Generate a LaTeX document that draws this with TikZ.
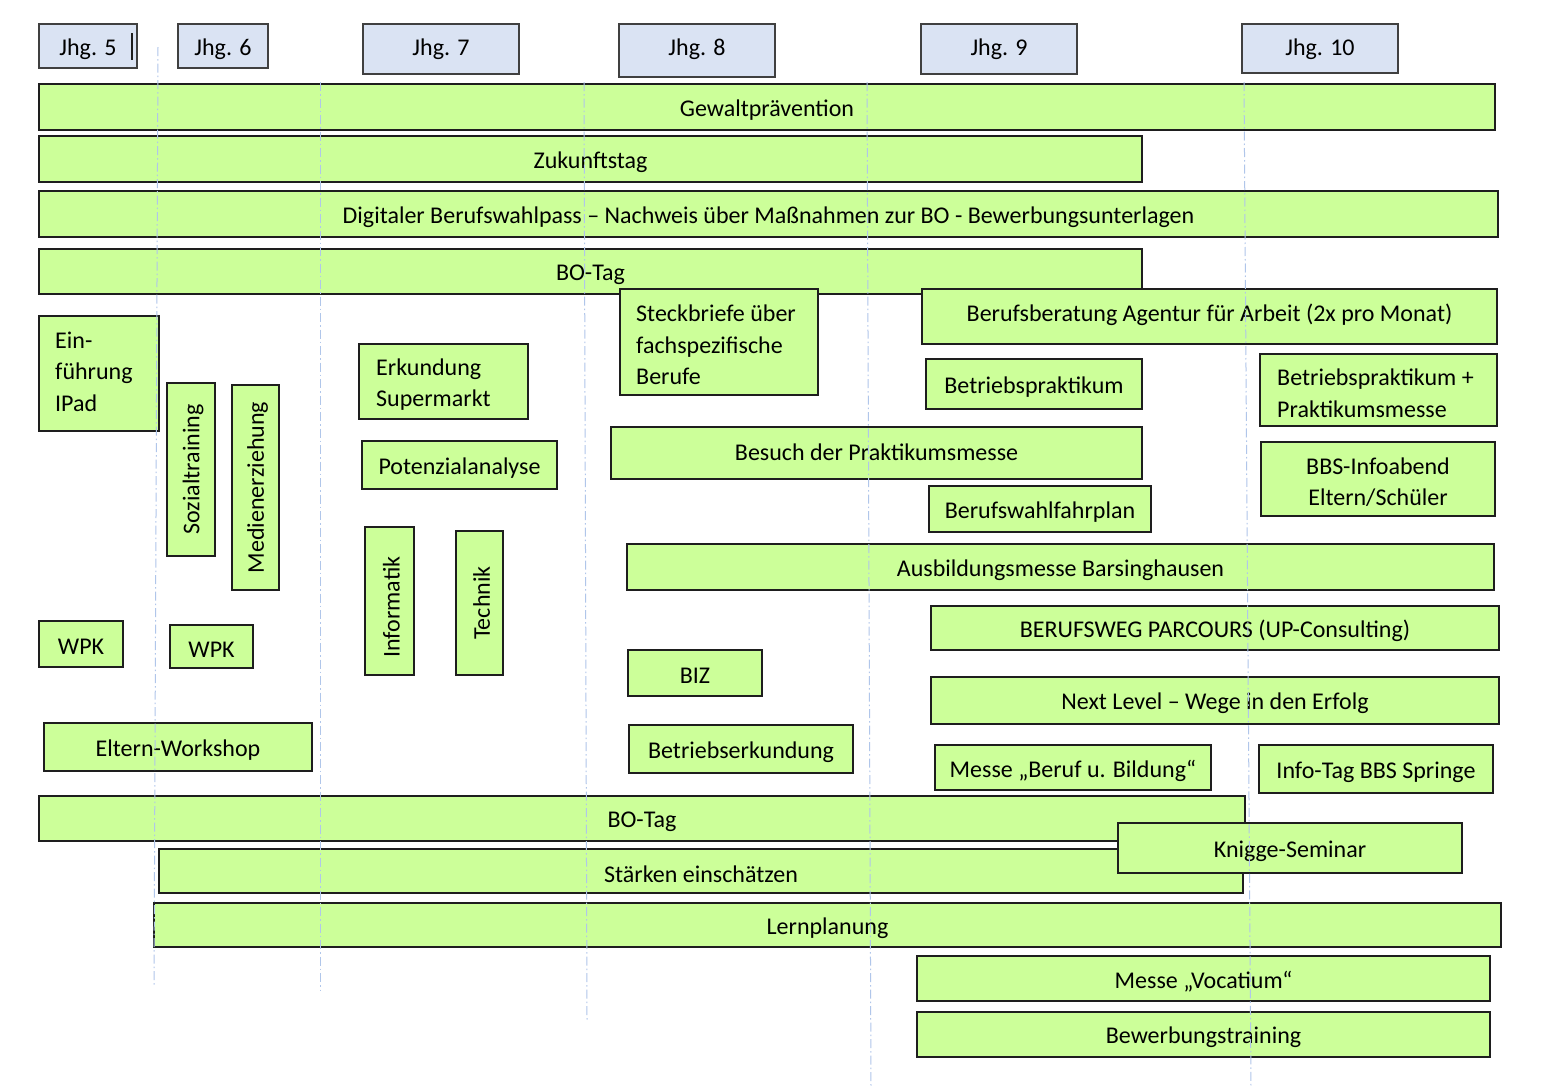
\documentclass[tikz,border=0pt]{standalone}
\usepackage{fontspec}
\setmainfont{Carlito}
\usepackage{graphicx}
\definecolor{boxgreen}{HTML}{CCFF99}
\definecolor{hdrblue}{HTML}{DAE3F3}
\definecolor{gridblue}{HTML}{B0C6EA}
\definecolor{edge}{HTML}{1E1E1E}
% box with centred text
\newcommand{\mkbox}[7]{\node[#6, minimum width={#4-#2}, minimum height={#5-#3}] (#1) at ({(#2+#4)/2},{(#3+#5)/2}) {};
  \node[txt] (#1-t) at ([yshift=-3pt]#1.center) {#7};}
% header box, text at fixed height
\newcommand{\mkhdr}[6]{\node[hdr, minimum width={#4-#2}, minimum height={#5-#3}] (#1) at ({(#2+#4)/2},{(#3+#5)/2}) {};
  \node[txt] (#1-t) at ([yshift=-25pt]#1.north) {#6};}
% empty box (text placed separately)
\newcommand{\mkboxl}[6]{\node[#6, minimum width={#4-#2}, minimum height={#5-#3}] (#1) at ({(#2+#4)/2},{(#3+#5)/2}) {};}
% box with rotated text
\newcommand{\mkboxr}[7]{\node[box, minimum width={#4-#2}, minimum height={#5-#3}] (#1) at ({(#2+#4)/2},{(#3+#5)/2}) {};
  \node[txt, rotate=90] (#1-t) at ([xshift=2pt,yshift=#7]#1.center) {#6};}
\begin{document}
\begin{tikzpicture}[x=1pt,y=-1pt,
  txt/.style={font=\fontsize{24}{31.5}\selectfont, text=black, inner sep=0pt},
  box/.style={draw=edge, line width=1.6pt, fill=boxgreen, inner sep=0pt, outer sep=0pt},
  hdr/.style={draw=edge!85, line width=1.6pt, fill=hdrblue, inner sep=0pt, outer sep=0pt},
  ltxt/.style={txt, anchor=west, align=flush left},
  gridline/.style={draw=gridblue, line width=1pt, dash pattern=on 9pt off 3pt on 1.5pt off 3pt}]
\useasboundingbox (0,0) rectangle (1543,1090);
\fill[white] (0,0) rectangle (1543,1090);

% headers
\mkhdr{h5}{39}{24}{137}{68}{Jhg. 5}
\draw[edge, line width=1.2pt] ([xshift=-5pt,yshift=-9pt]h5.north east) -- ([xshift=-5pt,yshift=8pt]h5.south east);
\mkhdr{h6}{178}{24}{268}{68}{Jhg. 6}
\mkhdr{h7}{363}{24}{519}{74}{Jhg. 7}
\mkhdr{h8}{619}{24}{775}{77}{Jhg. 8}
\mkhdr{h9}{921}{24}{1077}{74}{Jhg. 9}
\mkhdr{h10}{1242}{24}{1398}{73}{Jhg. 10}

% long bars
\mkbox{gewalt}{39}{84}{1495}{130}{box}{Gewaltprävention}
\mkbox{zukunft}{39}{136}{1142}{182}{box}{Zukunftstag}
\mkbox{pass}{39}{191}{1498}{237}{box}{Digitaler Berufswahlpass – Nachweis über Maßnahmen zur BO - Bewerbungsunterlagen}
\mkbox{botag1}{39}{249}{1142}{294}{box}{BO-Tag}

% middle
\mkboxl{steck}{620}{289}{818}{395}{box}
\node[ltxt] (steck-t) at ([xshift=16pt,yshift=-3pt]steck.west) {Steckbriefe über\\fachspezifische\\Berufe};
\mkboxl{beratung}{922}{289}{1497}{344}{box}
\node[txt] (beratung-t) at ([yshift=2pt]beratung.center) {Berufsberatung Agentur für Arbeit (2x pro Monat)};
\mkboxl{ipad}{39}{316}{159}{431}{box}
\node[ltxt] (ipad-t) at ([xshift=16pt,yshift=2pt]ipad.west) {Ein-\\führung\\IPad};
\mkboxl{erkund}{359}{344}{528}{419}{box}
\node[ltxt] (erkund-t) at ([xshift=17pt,yshift=-3pt]erkund.west) {Erkundung\\Supermarkt};
\mkboxr{sozial}{167}{383}{215}{556}{Sozialtraining}{0pt}
\mkboxr{medien}{232}{385}{279}{590}{Medienerziehung}{0pt}
\mkbox{bprak}{926}{359}{1142}{409}{box}{Betriebspraktikum}
\mkboxl{bprakm}{1260}{354}{1497}{426}{box}
\node[ltxt] (bprakm-t) at ([xshift=17pt,yshift=-3pt]bprakm.west) {Betriebspraktikum +\\Praktikumsmesse};
\mkbox{potenz}{362}{441}{557}{489}{box}{Potenzialanalyse}
\mkboxl{besuch}{611}{427}{1142}{479}{box}
\node[txt] (besuch-t) at ([yshift=1pt]besuch.center) {Besuch der Praktikumsmesse};
\mkboxl{bbs}{1261}{442}{1495}{516}{box}
\node[txt, align=center] (bbs-t) at ([yshift=-3pt]bbs.center) {BBS-Infoabend\\Eltern/Schüler};
\mkbox{fahrplan}{929}{486}{1151}{532}{box}{Berufswahlfahrplan}
\mkboxr{info}{365}{527}{414}{675}{Informatik}{-6pt}
\mkboxr{technik}{456}{531}{503}{675}{Technik}{0pt}
\mkbox{ausb}{627}{544}{1494}{590}{box}{Ausbildungsmesse Barsinghausen}
\mkbox{parcours}{931}{606}{1499}{650}{box}{BERUFSWEG PARCOURS (UP-Consulting)}
\mkbox{wpk5}{39}{621}{123}{667}{box}{WPK}
\mkbox{wpk6}{170}{625}{253}{668}{box}{WPK}
\mkbox{biz}{628}{650}{762}{696}{box}{BIZ}
\mkbox{next}{931}{677}{1499}{724}{box}{Next Level – Wege in den Erfolg}
\mkbox{eltern}{44}{723}{312}{771}{box}{Eltern-Workshop}
\mkbox{berk}{629}{725}{853}{773}{box}{Betriebserkundung}
\mkbox{messeb}{935}{745}{1211}{790}{box}{Messe „Beruf u. Bildung“}
\mkbox{springe}{1259}{745}{1493}{793}{box}{Info-Tag BBS Springe}

% lower bars
\mkbox{botag2}{39}{796}{1245}{841}{box}{BO-Tag}
\mkbox{staerken}{159}{849}{1243}{893}{box}{Stärken einschätzen}
\mkbox{knigge}{1118}{823}{1462}{873}{box}{Knigge-Seminar}
\mkbox{lern}{154}{903}{1501}{947}{box}{Lernplanung}
\mkbox{vocat}{917}{956}{1490}{1001}{box}{Messe „Vocatium“}
\mkbox{bewerb}{917}{1012}{1490}{1057}{box}{Bewerbungstraining}

% year grid lines
\coordinate (g1a) at (158,47);   \coordinate (g1b) at (154,985);
\coordinate (g2a) at (320,82);   \coordinate (g2b) at (320,990);
\coordinate (g3a) at (584,82);   \coordinate (g3b) at (587,1020);
\coordinate (g4a) at (867,82);   \coordinate (g4b) at (871,1087);
\coordinate (g5a) at (1244,82);  \coordinate (g5b) at (1251,1087);
\draw[gridline] (g1a) -- (g1b);
\draw[gridline] (g2a) -- (g2b);
\draw[gridline] (g3a) -- (g3b);
\draw[gridline] (g4a) -- (g4b);
\draw[gridline] (g5a) -- (g5b);
\end{tikzpicture}
\end{document}
